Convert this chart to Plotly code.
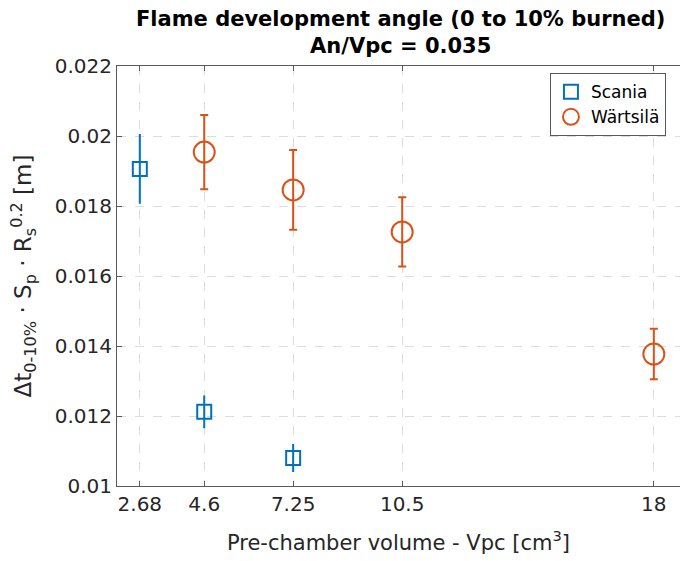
import plotly.graph_objects as go

# Pre-chamber volumes [cm^3] and normalised flame development (0-10 % burned)
scania_vpc = [2.68, 4.6, 7.25]
scania_val = [0.01906, 0.01212, 0.01080]
scania_err = [0.00097, 0.00044, 0.00037]

wartsila_vpc = [4.6, 7.25, 10.5, 18]
wartsila_val = [0.01954, 0.01846, 0.01726, 0.01377]
wartsila_err = [0.00106, 0.00114, 0.00099, 0.00072]

x_ticks = [2.68, 4.6, 7.25, 10.5, 18]
y_ticks = [0.01, 0.012, 0.014, 0.016, 0.018, 0.02, 0.022]
y_tick_text = ["0.01", "0.012", "0.014", "0.016", "0.018", "0.02", "0.022"]

title_lines = ["Flame development angle (0 to 10% burned)", "An/Vpc = 0.035"]

BLUE = "#0072BD"
ORANGE = "#D95319"
FONT = "DejaVu Sans, Liberation Sans, sans-serif"
TEXT = "#262626"

fig = go.Figure()

fig.add_trace(go.Scatter(
    x=scania_vpc, y=scania_val, mode="markers", name="Scania",
    marker=dict(symbol="square-open", size=14, color=BLUE, line=dict(width=2, color=BLUE)),
    error_y=dict(type="data", array=scania_err, visible=True, color=BLUE, thickness=2, width=1),
))

fig.add_trace(go.Scatter(
    x=wartsila_vpc, y=wartsila_val, mode="markers", name="Wärtsilä",
    marker=dict(symbol="circle-open", size=21, color=ORANGE, line=dict(width=2, color=ORANGE)),
    error_y=dict(type="data", array=wartsila_err, visible=True, color=ORANGE, thickness=2, width=4),
))

axis_common = dict(
    showline=True, linecolor="#5a5a5a", linewidth=1,
    ticks="inside", ticklen=5, tickcolor="#5a5a5a",
    showgrid=True, gridcolor="#dcdcdc", griddash="dash", gridwidth=1,
    zeroline=False,
    tickfont=dict(family=FONT, size=20, color=TEXT),
)

fig.update_xaxes(
    **axis_common,
    range=[2, 18.78], tickvals=x_ticks, ticktext=[str(v) for v in x_ticks],
    mirror="ticks",
    title=dict(text="Pre-chamber volume - Vpc [cm<sup>3</sup>]",
               font=dict(family=FONT, size=21, color=TEXT), standoff=20),
)

fig.update_yaxes(
    **axis_common,
    range=[0.01, 0.022], tickvals=y_ticks, ticktext=y_tick_text,
    title=dict(text="Δt<sub>0-10%</sub> · S<sub>p</sub> · R<sub>s</sub><sup>0.2</sup> [m]",
               font=dict(family=FONT, size=23, color=TEXT), standoff=16),
)

# Two-line bold title centred over the axes
fig.add_annotation(
    text="<br>".join(f"<b>{line}</b>" for line in title_lines),
    xref="paper", x=0.503, xanchor="center",
    yref="paper", y=1, yanchor="bottom", yshift=6,
    showarrow=False, align="center",
    font=dict(family=FONT, size=21, color="black"),
)

fig.update_layout(
    width=680, height=561,
    margin=dict(l=117, r=0, t=66, b=75),
    plot_bgcolor="white", paper_bgcolor="white",
    showlegend=True,
    legend=dict(
        x=0.769, y=0.983, xanchor="left", yanchor="top",
        bgcolor="white", bordercolor="#5a5a5a", borderwidth=1,
        font=dict(family=FONT, size=17, color="black"),
        itemsizing="trace", tracegroupgap=0,
    ),
)

fig.write_html("out.html")
